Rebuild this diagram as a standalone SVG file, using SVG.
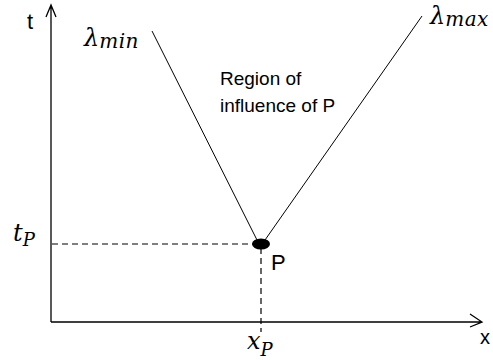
<svg xmlns="http://www.w3.org/2000/svg" width="493" height="360" viewBox="0 0 493 360">
<style>
.ax{stroke:#000;stroke-width:1.3;fill:none}
.ln{stroke:#000;stroke-width:1;fill:none}
.da{stroke:#000;stroke-width:1.2;fill:none;stroke-dasharray:6,4}
.sans{font-family:"Liberation Sans",Arial,sans-serif;fill:#000}
.cal{font-family:"DejaVu Serif","Liberation Serif",serif;font-style:italic;fill:#000}
</style>
<rect width="493" height="360" fill="#fff"/>
<g id="axes">
<path class="ax" d="M51,322 V6 M46,17 L51,5 L56,17"/>
<path class="ax" d="M51,322 H481 M470,314 L482,322 L470,327"/>
<text class="sans" x="27" y="29" font-size="22">t</text>
<text class="sans" x="480" y="344" font-size="20">x</text>
</g>
<g id="connectors">
<path class="ln" d="M152,31 L257,240"/>
<path class="ln" d="M422,16 L265,240"/>
<path class="da" d="M52,244 H256"/>
<path class="da" d="M261,248 V332"/>
</g>
<g id="P">
<ellipse cx="261" cy="244" rx="9" ry="5.5" fill="#000"/>
<text class="sans" x="271" y="270" font-size="22">P</text>
</g>
<g id="labels">
<text class="cal" x="84" y="46" font-size="24">λ<tspan font-size="20" dy="2" letter-spacing="0.5">min</tspan></text>
<text class="cal" x="430" y="24" font-size="24">λ<tspan font-size="20" dy="2" letter-spacing="0.5">max</tspan></text>
<text class="sans" x="220" y="85" font-size="19">Region of</text>
<text class="sans" x="220" y="112" font-size="19">influence of P</text>
<text class="cal" x="13" y="241" font-size="24">t<tspan font-size="18" dy="5">P</tspan></text>
<text class="cal" x="247" y="349" font-size="24">x<tspan font-size="18" dy="7">P</tspan></text>
</g>
</svg>
